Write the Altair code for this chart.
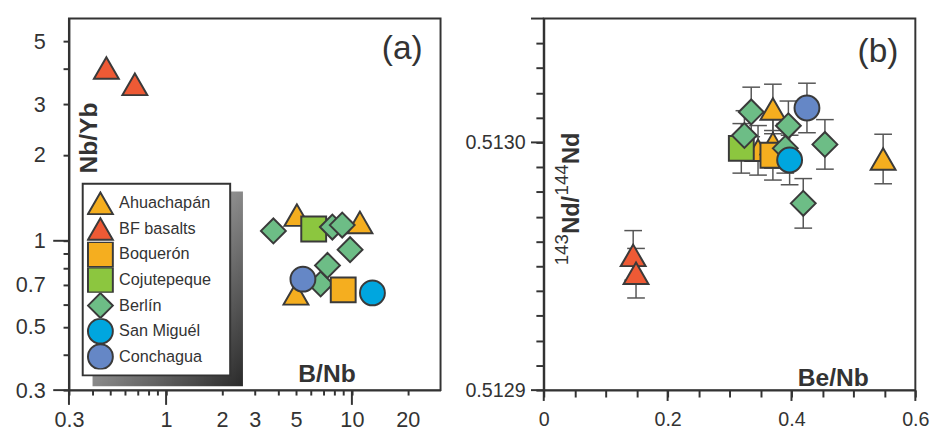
import altair as alt
import pandas as pd

FONT = "Liberation Sans"
INK = "#333333"
EDGE = "#3a3a3a"

# ---- legend / group styling -------------------------------------------------
groups = ["Ahuachapán", "BF basalts", "Boquerón", "Cojutepeque", "Berlín", "San Miguél", "Conchagua"]
shapes = ["triangle-up", "triangle-up", "square", "square", "diamond", "circle", "circle"]
colors = ["#F5AE1F", "#EE5A35", "#F5AE1F", "#8CC63F", "#6DBD86", "#00A6DF", "#6587C6"]
sizes = [640, 640, 440, 440, 760, 530, 530]

# ---- panel (a): Nb/Yb vs B/Nb ----------------------------------------------
a_group = ["Ahuachapán", "Ahuachapán", "Ahuachapán", "BF basalts", "BF basalts",
           "Berlín", "Boquerón", "Cojutepeque", "Berlín", "Berlín", "Berlín",
           "Berlín", "Berlín", "San Miguél", "Conchagua"]
a_bnb = [5.06, 11.05, 5.0, 0.477, 0.679, 6.79, 8.98, 6.23, 3.78, 7.85, 8.87, 9.78, 7.39, 12.9, 5.45]
a_nbyb = [1.23, 1.16, 0.652, 4.03, 3.53, 0.706, 0.673, 1.10, 1.083, 1.117, 1.135, 0.931, 0.82, 0.657, 0.734]

a_x_ticks = [0.3, 0.4, 0.5, 0.6, 0.7, 0.8, 0.9, 1, 2, 3, 4, 5, 6, 7, 8, 9, 10, 20]
a_x_labels = [0.3, 1, 2, 3, 5, 10, 20]
a_x_major = [0.3, 1, 10]
a_y_ticks = [0.3, 0.4, 0.5, 0.6, 0.7, 0.8, 0.9, 1, 2, 3, 4, 5]
a_y_labels = [0.3, 0.5, 0.7, 1, 2, 3, 5]
a_y_major = [0.3, 1]

# ---- panel (b): 143Nd/144Nd vs Be/Nb ---------------------------------------
b_group = ["Ahuachapán", "Ahuachapán", "Ahuachapán", "Ahuachapán", "BF basalts", "BF basalts",
           "Cojutepeque", "Boquerón", "Berlín", "Berlín", "Berlín", "Berlín", "Berlín", "Berlín",
           "San Miguél", "Conchagua"]
b_benb = [0.370, 0.346, 0.370, 0.548, 0.1444, 0.149, 0.319, 0.370,
          0.335, 0.324, 0.395, 0.454, 0.390, 0.419, 0.397, 0.425]
b_nd = [0.5130135, 0.5129968, 0.5129996, 0.5129933, 0.5129544, 0.5129472, 0.5129976, 0.5129948,
        0.5130123, 0.5130028, 0.5130067, 0.5129992, 0.5129976, 0.5129754, 0.5129929, 0.5130139]
b_err = [0.00001] * len(b_nd)

b_x_ticks = [0, 0.05, 0.1, 0.15, 0.2, 0.25, 0.3, 0.35, 0.4, 0.45, 0.5, 0.55, 0.6]
b_x_major = [0, 0.2, 0.4, 0.6]
b_y_ticks = [0.51290, 0.51291, 0.51292, 0.51293, 0.51294, 0.51295, 0.51296, 0.51297,
             0.51298, 0.51299, 0.51300, 0.51301, 0.51302, 0.51303, 0.51304]
b_y_major = [0.5129, 0.5130, 0.51305]

W = H = 378

color_scale = alt.Scale(domain=groups, range=colors)
shape_scale = alt.Scale(domain=groups, range=shapes)
size_scale = alt.Scale(domain=groups, range=sizes)

xs_a = alt.Scale(type="log", domain=[0.3, 30], nice=False)
ys_a = alt.Scale(type="log", domain=[0.3, 6], nice=False)
xs_b = alt.Scale(domain=[0, 0.6], nice=False, zero=False)
ys_b = alt.Scale(domain=[0.5129, 0.51305], nice=False, zero=False)

ax_a_x = alt.Axis(
    values=a_x_ticks, tickSize=5, labelPadding=14.5, labelFontSize=22, labelFlush=False,
    labelOverlap=False,
    labelExpr="indexof(%s, datum.value) >= 0 ? format(datum.value, '~g') : ''" % str(a_x_labels),
    title="B/Nb", titleX=262, titleY=-9, titleAlign="center", titleBaseline="alphabetic",
    titleFontSize=25, titleFontWeight="bold", titleAngle=0,
)
ax_a_y = alt.Axis(
    values=a_y_ticks, tickSize=6, labelPadding=18, labelFontSize=22, labelFlush=False,
    labelOverlap=False,
    labelExpr="indexof(%s, datum.value) >= 0 ? format(datum.value, '~g') : ''" % str(a_y_labels),
    title="Nb/Yb", titleX=28, titleY=121, titleAlign="center", titleBaseline="alphabetic",
    titleFontSize=25, titleFontWeight="bold", titleAngle=270,
)
ax_b_x = alt.Axis(
    values=b_x_ticks, tickSize=7, labelPadding=12.5, labelFontSize=20, labelFlush=False,
    labelOverlap=False,
    labelExpr="indexof(%s, datum.value) >= 0 ? format(datum.value, '~g') : ''" % str(b_x_major),
    title="Be/Nb", titleX=294, titleY=-5, titleAlign="center", titleBaseline="alphabetic",
    titleFontSize=25, titleFontWeight="bold", titleAngle=0,
)
ax_b_y = alt.Axis(
    values=b_y_ticks, tickSize=8, labelPadding=11, labelFontSize=20, labelFlush=False,
    labelOverlap=False,
    labelExpr="(abs(datum.value - 0.5129) < 1e-9 || abs(datum.value - 0.513) < 1e-9) ? format(datum.value, '.4f') : ''",
    title=None,
)


def text_layer(text, x, y, size, weight="normal", angle=0, align="center", baseline="middle"):
    return alt.Chart(pd.DataFrame({"t": [text]})).mark_text(
        font=FONT, fontSize=size, fontWeight=weight, angle=angle, align=align,
        baseline=baseline, color=INK,
    ).encode(x=alt.value(x), y=alt.value(y), text="t:N")


def one_row():
    return pd.DataFrame({"k": [0]})


# ---------------- panel (a) ----------------
df_a = pd.DataFrame({"group": a_group, "bnb": a_bnb, "nbyb": a_nbyb})

legend = alt.Legend(
    orient="none", legendX=18, legendY=175, title=None, padding=0,
    labelFont=FONT, labelFontSize=16.5, labelColor=INK, labelOffset=5,
    symbolStrokeWidth=2, symbolOpacity=1, rowPadding=0, clipHeight=26,
)

points_a = alt.Chart(df_a).mark_point(
    filled=True, opacity=1, stroke=EDGE, strokeWidth=2
).encode(
    x=alt.X("bnb:Q", scale=xs_a, axis=ax_a_x),
    y=alt.Y("nbyb:Q", scale=ys_a, axis=ax_a_y),
    color=alt.Color("group:N", scale=color_scale, legend=legend),
    shape=alt.Shape("group:N", scale=shape_scale, legend=legend),
    size=alt.Size("group:N", scale=size_scale, legend=legend),
)

xmaj_a = alt.Chart(pd.DataFrame({"v": a_x_major})).mark_rule(color=INK, strokeWidth=2).encode(
    x=alt.X("v:Q", scale=xs_a, axis=ax_a_x), y=alt.value(H), y2=alt.value(H + 15))
ymaj_a = alt.Chart(pd.DataFrame({"v": a_y_major})).mark_rule(color=INK, strokeWidth=2).encode(
    y=alt.Y("v:Q", scale=ys_a, axis=ax_a_y), x=alt.value(-16), x2=alt.value(0))

shadow = alt.Chart(one_row()).mark_rect(
    fill=alt.LinearGradient(
        gradient="linear",
        stops=[alt.GradientStop(offset=0, color="#e6e6e6"),
               alt.GradientStop(offset=1, color="#2a2a2a")],
        x1=0, y1=0, x2=1, y2=1,
    )
).encode(x=alt.value(24), x2=alt.value(177), y=alt.value(176), y2=alt.value(374))

box = alt.Chart(one_row()).mark_rect(fill="white", stroke=INK, strokeWidth=2).encode(
    x=alt.value(14), x2=alt.value(164), y=alt.value(168), y2=alt.value(363))

panel_a = alt.layer(
    shadow, box, points_a, xmaj_a, ymaj_a,
    text_layer("(a)", 339, 31, 34),
).properties(width=W, height=H)

# ---------------- panel (b) ----------------
df_b = pd.DataFrame({"group": b_group, "benb": b_benb, "nd": b_nd, "err": b_err})
base_b = alt.Chart(df_b).transform_calculate(
    lo="datum.nd - datum.err", hi="datum.nd + datum.err")

err_rule = base_b.mark_rule(color="#555555", strokeWidth=1.5).encode(
    x=alt.X("benb:Q", scale=xs_b, axis=ax_b_x),
    y=alt.Y("lo:Q", scale=ys_b, axis=ax_b_y), y2="hi:Q")
cap_lo = base_b.mark_tick(color="#555555", orient="horizontal", size=18, thickness=1.5, opacity=1).encode(
    x=alt.X("benb:Q", scale=xs_b, axis=ax_b_x), y=alt.Y("lo:Q", scale=ys_b, axis=ax_b_y))
cap_hi = base_b.mark_tick(color="#555555", orient="horizontal", size=18, thickness=1.5, opacity=1).encode(
    x=alt.X("benb:Q", scale=xs_b, axis=ax_b_x), y=alt.Y("hi:Q", scale=ys_b, axis=ax_b_y))

points_b = base_b.mark_point(
    filled=True, opacity=1, stroke=EDGE, strokeWidth=2
).encode(
    x=alt.X("benb:Q", scale=xs_b, axis=ax_b_x),
    y=alt.Y("nd:Q", scale=ys_b, axis=ax_b_y),
    color=alt.Color("group:N", scale=color_scale, legend=None),
    shape=alt.Shape("group:N", scale=shape_scale, legend=None),
    size=alt.Size("group:N", scale=size_scale, legend=None),
)

xmaj_b = alt.Chart(pd.DataFrame({"v": b_x_major})).mark_rule(color=INK, strokeWidth=2).encode(
    x=alt.X("v:Q", scale=xs_b, axis=ax_b_x), y=alt.value(H), y2=alt.value(H + 11))
ymaj_b = alt.Chart(pd.DataFrame({"v": b_y_major})).mark_rule(color=INK, strokeWidth=2).encode(
    y=alt.Y("v:Q", scale=ys_b, axis=ax_b_y), x=alt.value(-13), x2=alt.value(0))

panel_b = alt.layer(
    err_rule, cap_lo, cap_hi, points_b, xmaj_b, ymaj_b,
    text_layer("143", 25, 251, 19, angle=270, align="left", baseline="alphabetic"),
    text_layer("Nd/", 36, 219, 24, weight="bold", angle=270, align="left", baseline="alphabetic"),
    text_layer("144", 25, 180, 19, angle=270, align="left", baseline="alphabetic"),
    text_layer("Nd", 36, 148, 24, weight="bold", angle=270, align="left", baseline="alphabetic"),
    text_layer("(b)", 340, 34, 34),
).properties(width=W, height=H)

chart = alt.hconcat(panel_a, panel_b, spacing=105, bounds="flush").resolve_scale(
    color="independent", shape="independent", size="independent"
).configure_view(
    stroke=INK, strokeWidth=2
).configure_axis(
    domainColor=INK, domainWidth=2, tickColor=INK, tickWidth=2, grid=False,
    labelFont=FONT, labelColor=INK, titleFont=FONT, titleColor=INK,
).properties(
    padding={"left": 6, "top": 5, "right": 5, "bottom": 5},
    background="white",
)

chart.save("out.html", embed_options={"renderer": "svg", "actions": False})
